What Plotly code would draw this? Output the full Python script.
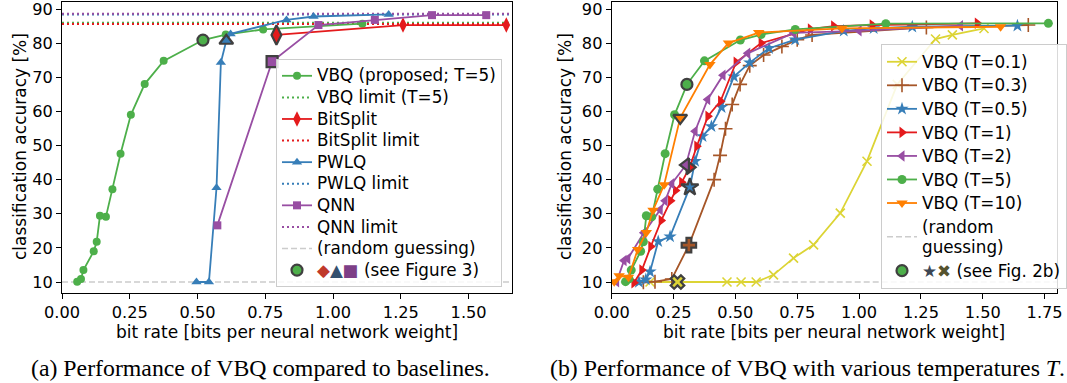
import plotly.graph_objects as go

# ---------------- data, panel (a) ----------------
vbq_x = [0.056, 0.070, 0.079, 0.117, 0.128, 0.140, 0.162, 0.186, 0.216, 0.254, 0.305, 0.375, 0.520, 0.604, 0.742, 1.108]
vbq_y = [10.1, 10.9, 13.5, 19.0, 21.8, 29.4, 29.1, 37.2, 47.6, 59.0, 68.0, 74.8, 80.9, 82.5, 84.0, 85.7]
bitsplit_x = [0.791, 1.258, 1.639]
bitsplit_y = [82.4, 85.3, 85.3]
pwlq_x = [0.496, 0.542, 0.570, 0.586, 0.606, 0.622, 0.828, 0.928, 1.205]
pwlq_y = [10.0, 10.0, 37.6, 74.3, 80.7, 82.7, 86.8, 87.8, 88.4]
qnn_x = [0.573, 0.775, 0.946, 1.154, 1.365, 1.565]
qnn_y = [26.6, 74.6, 85.3, 86.8, 88.2, 88.2]
vbq_limit = 86.0
bitsplit_limit = 85.6
pwlq_limit = 88.4
qnn_limit = 88.6
random_guess = 10.0
# highlighted points ("see Figure 3"): VBQ, BitSplit, PWLQ, QNN
fig3_x = [0.520, 0.791, 0.606, 0.775]
fig3_y = [80.9, 82.4, 80.7, 74.6]

# ---------------- data, panel (b) ----------------
t01_x = [0.155, 0.266, 0.466, 0.523, 0.584, 0.654, 0.735, 0.816, 0.924, 1.032, 1.154, 1.309, 1.377, 1.505]
t01_y = [10.0, 10.0, 10.0, 10.0, 10.0, 12.1, 17.0, 20.9, 30.2, 45.4, 67.9, 81.2, 82.4, 84.3]
t03_x = [0.128, 0.175, 0.243, 0.312, 0.414, 0.438, 0.460, 0.487, 0.519, 0.558, 0.614, 0.688, 0.750, 0.810, 1.272, 1.684]
t03_y = [9.9, 10.1, 10.9, 20.8, 40.0, 47.1, 54.9, 62.0, 67.9, 73.4, 76.5, 79.0, 81.0, 82.4, 84.6, 85.3]
t05_x = [0.110, 0.138, 0.155, 0.188, 0.236, 0.316, 0.337, 0.367, 0.403, 0.444, 0.494, 0.558, 0.636, 0.742, 0.938, 1.059, 1.215, 1.640]
t05_y = [10.0, 10.7, 13.0, 21.9, 23.3, 37.8, 45.4, 52.7, 55.6, 61.2, 70.2, 74.3, 78.5, 81.0, 83.6, 84.3, 84.8, 85.1]
t1_x = [0.090, 0.122, 0.158, 0.200, 0.238, 0.258, 0.283, 0.315, 0.344, 0.389, 0.440, 0.503, 0.604, 0.803, 0.897, 1.053, 1.478]
t1_y = [9.8, 13.5, 20.4, 28.0, 33.8, 36.8, 39.2, 43.6, 49.8, 58.6, 63.0, 74.4, 80.0, 84.1, 85.0, 85.3, 85.8]
t2_x = [0.020, 0.050, 0.065, 0.130, 0.196, 0.216, 0.243, 0.300, 0.337, 0.388, 0.450, 0.550, 0.735, 1.000, 1.410]
t2_y = [10.1, 16.3, 16.8, 24.4, 31.2, 33.8, 38.8, 44.3, 54.2, 63.5, 70.6, 77.0, 83.0, 83.6, 85.1]
t5_x = vbq_x + [1.765]
t5_y = vbq_y + [85.8]
t10_x = [0.010, 0.030, 0.068, 0.105, 0.140, 0.167, 0.212, 0.277, 0.397, 0.472, 0.594, 0.931, 1.572]
t10_y = [10.1, 11.8, 11.4, 19.5, 24.5, 31.0, 38.5, 58.1, 73.7, 80.0, 83.1, 84.3, 84.8]
# highlighted points ("see Fig. 2b"): T=0.1, 0.3, 0.5, 1, 2, 5, 10
fig2b_x = [0.266, 0.312, 0.316, 0.315, 0.300, 0.304, 0.277]
fig2b_y = [10.0, 20.8, 37.8, 43.6, 44.3, 67.9, 58.1]

# ---------------- style ----------------
GREEN, RED, BLUE, PURPLE = "#4daf4a", "#e41a1c", "#377eb8", "#984ea3"
ORANGE, BROWN, YELLOW = "#ff7f00", "#a65628", "#dcd435"
EDGE = "#404040"
GRAY = "#cccccc"
FONT = "DejaVu Sans"
W, H = 1067, 383
XR_A = [0, 1.66]
XR_B = [0, 1.80]
YR = [6.78, 92.05]
LW = 1.8
DOT = "2px,3px"
LEG_TXT = 16.8


def big(text, color=None):
    style = "font-size:%spx" % LEG_TXT
    if color:
        style += ";color:" + color
    return "<span style='%s'>%s</span>" % (style, text)


fig = go.Figure()


def add(x, y, name, color, symbol, size, xa, ya, leg, rank, line_w=LW, mode="lines+markers",
        dash=None, mline=0, showlegend=True):
    fig.add_trace(go.Scatter(
        x=x, y=y, name=name, mode=mode, xaxis=xa, yaxis=ya, legend=leg, legendrank=rank,
        showlegend=showlegend,
        line=dict(color=color, width=line_w, dash=dash),
        marker=dict(symbol=symbol, size=size, color=color,
                    line=dict(color=color, width=mline)),
    ))


# ---- panel (a)
add(XR_A, [random_guess] * 2, big("(random guessing)"), GRAY, None, 0, "x", "y", "legend", 9,
    line_w=1.5, mode="lines", dash="6px,3px")
add(XR_A, [vbq_limit] * 2, big("VBQ limit (T=5)"), GREEN, None, 0, "x", "y", "legend", 2, line_w=2, mode="lines", dash=DOT)
add(XR_A, [bitsplit_limit] * 2, big("BitSplit limit"), RED, None, 0, "x", "y", "legend", 4, line_w=2, mode="lines", dash=DOT)
add(XR_A, [pwlq_limit] * 2, big("PWLQ limit"), BLUE, None, 0, "x", "y", "legend", 6, line_w=2, mode="lines", dash=DOT)
add(XR_A, [qnn_limit] * 2, big("QNN limit"), PURPLE, None, 0, "x", "y", "legend", 8, line_w=2, mode="lines", dash=DOT)
add(vbq_x, vbq_y, big("VBQ (proposed; T=5)"), GREEN, "circle", 8, "x", "y", "legend", 1)
add(bitsplit_x, bitsplit_y, big("BitSplit"), RED, "diamond-tall", 11, "x", "y", "legend", 3)
add(pwlq_x, pwlq_y, big("PWLQ"), BLUE, "triangle-up", 9, "x", "y", "legend", 5)
add(qnn_x, qnn_y, big("QNN"), PURPLE, "square", 8, "x", "y", "legend", 7)

fig3_colors = [GREEN, RED, BLUE, PURPLE]
fig3_symbols = ["circle", "diamond-tall", "triangle-up", "square"]
fig3_sizes = [11, 14, 12, 11]
fig3_name = (big("◆", "#c0392b") + big("▲", "#34506e") + big("■", "#7d3f87")
             + big(" (see Figure 3)"))
for i in range(len(fig3_x)):
    fig.add_trace(go.Scatter(
        x=[fig3_x[i]], y=[fig3_y[i]], mode="markers", xaxis="x", yaxis="y",
        legend="legend", legendrank=10, showlegend=(i == 0), name=fig3_name,
        marker=dict(symbol=fig3_symbols[i], size=fig3_sizes[i], color=fig3_colors[i],
                    line=dict(color=EDGE, width=2.2)),
    ))

# ---- panel (b)
add(XR_B, [random_guess] * 2, big("(random") + "<br>" + big("guessing)"), GRAY, None, 0, "x2", "y2", "legend2", 8,
    line_w=1.5, mode="lines", dash="6px,3px")
add(t01_x, t01_y, big("VBQ (T=0.1)"), YELLOW, "x-thin", 9, "x2", "y2", "legend2", 1, mline=1.6)
add(t03_x, t03_y, big("VBQ (T=0.3)"), BROWN, "cross-thin", 10, "x2", "y2", "legend2", 2, mline=1.6)
add(t05_x, t05_y, big("VBQ (T=0.5)"), BLUE, "star", 10, "x2", "y2", "legend2", 3)
add(t1_x, t1_y, big("VBQ (T=1)"), RED, "triangle-right", 10, "x2", "y2", "legend2", 4)
add(t2_x, t2_y, big("VBQ (T=2)"), PURPLE, "triangle-left", 10, "x2", "y2", "legend2", 5)
add(t5_x, t5_y, big("VBQ (T=5)"), GREEN, "circle", 9, "x2", "y2", "legend2", 6)
add(t10_x, t10_y, big("VBQ (T=10)"), ORANGE, "triangle-down", 10, "x2", "y2", "legend2", 7)

fig2b_colors = [YELLOW, BROWN, BLUE, RED, PURPLE, GREEN, ORANGE]
fig2b_symbols = ["x", "cross", "star", "triangle-right", "triangle-left", "circle", "triangle-down"]
fig2b_sizes = [12, 12, 13, 12, 12, 11, 12]
fig2b_name = big("★", "#3c4754") + big("✖", "#55532e") + big(" (see Fig. 2b)")
order_b = [5, 0, 1, 2, 3, 4, 6]  # green first so its marker shows in the legend
for i in order_b:
    fig.add_trace(go.Scatter(
        x=[fig2b_x[i]], y=[fig2b_y[i]], mode="markers", xaxis="x2", yaxis="y2",
        legend="legend2", legendrank=9, showlegend=(i == 5), name=fig2b_name,
        marker=dict(symbol=fig2b_symbols[i], size=fig2b_sizes[i], color=fig2b_colors[i],
                    line=dict(color=EDGE, width=2.2)),
    ))

# ---------------- layout ----------------
def px_x(p):
    return p / W


def px_y(p):
    return 1 - p / H


axis_common = dict(showline=True, mirror=True, linecolor="black", linewidth=1,
                   ticks="outside", ticklen=5, tickwidth=1, tickcolor="black",
                   showgrid=False, zeroline=False, automargin=False,
                   ticklabeloverflow="allow",
                   tickfont=dict(family=FONT, size=16.2, color="black"))
ydom = [px_y(293), px_y(2)]
xextra = dict(tick0=0, dtick=0.25, tickformat=".2f")
yextra = dict(tick0=10, dtick=10)

fig.update_layout(
    template="none",
    width=W, height=H, margin=dict(l=0, r=0, t=0, b=0, pad=0, autoexpand=False),
    paper_bgcolor="white", plot_bgcolor="white",
    xaxis=dict(domain=[px_x(62), px_x(512)], range=XR_A, anchor="y", **xextra, **axis_common),
    yaxis=dict(domain=ydom, range=YR, anchor="x", **yextra, **axis_common),
    xaxis2=dict(domain=[px_x(611.7), px_x(1057)], range=XR_B, anchor="y2", **xextra, **axis_common),
    yaxis2=dict(domain=ydom, range=YR, anchor="x2", **yextra, **axis_common),
    legend=dict(x=px_x(276), y=px_y(59), xanchor="left", yanchor="top",
                bgcolor="rgba(255,255,255,0.85)", bordercolor=GRAY, borderwidth=1,
                font=dict(family=FONT, size=14.3, color="black"), tracegroupgap=0,
                traceorder="normal"),
    legend2=dict(x=px_x(881), y=px_y(44), xanchor="left", yanchor="top",
                 bgcolor="rgba(255,255,255,0.85)", bordercolor=GRAY, borderwidth=1,
                 font=dict(family=FONT, size=15.8, color="black"), tracegroupgap=0,
                 traceorder="normal"),
    showlegend=True,
)

label_font = dict(family=FONT, size=17, color="black")
cap_font = dict(family="Liberation Serif", size=23.8, color="black")
ann = [
    dict(text="classification accuracy [%]", x=px_x(20), y=px_y(147), textangle=-90, font=label_font),
    dict(text="classification accuracy [%]", x=px_x(565), y=px_y(147), textangle=-90, font=label_font),
    dict(text="bit rate [bits per neural network weight]", x=px_x(287), y=px_y(332), font=label_font),
    dict(text="bit rate [bits per neural network weight]", x=px_x(834), y=px_y(332), font=label_font),
    dict(text="(a) Performance of VBQ compared to baselines.", x=px_x(260), y=px_y(368), font=cap_font),
    dict(text="(b) Performance of VBQ with various temperatures <i>T</i>.", x=px_x(807), y=px_y(368), font=cap_font),
]
for a in ann:
    fig.add_annotation(xref="paper", yref="paper", showarrow=False, xanchor="center", yanchor="middle", **a)

fig.write_html("out.html", config={"displayModeBar": False},
               post_script="document.body.style.margin='0';")
